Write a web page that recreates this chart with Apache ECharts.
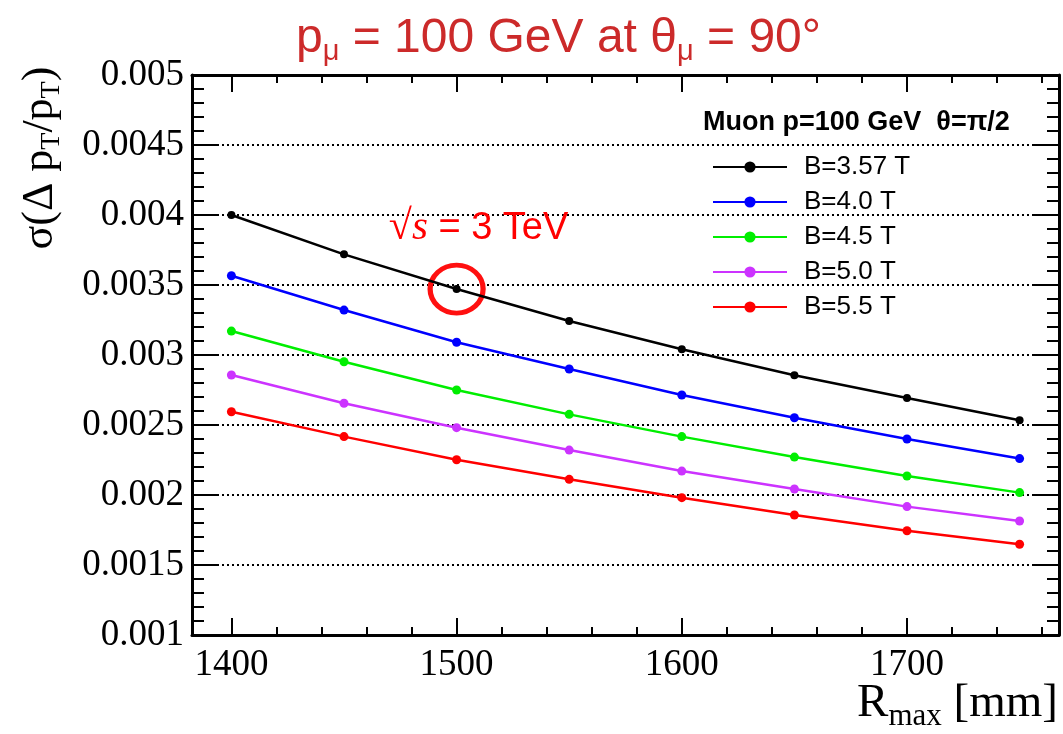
<!DOCTYPE html>
<html>
<head>
<meta charset="utf-8">
<script src="https://cdn.jsdelivr.net/npm/echarts@6/dist/echarts.min.js"></script>
<style>
html,body{margin:0;padding:0;background:#fff;}
#chart{width:1063px;height:734px;}
</style>
</head>
<body>
<div id="chart"></div>
<script>
// ---- data ----
const rMax = [1400, 1450, 1500, 1550, 1600, 1650, 1700, 1750];
const seriesNames = ['B=3.57 T', 'B=4.0 T', 'B=4.5 T', 'B=5.0 T', 'B=5.5 T'];
const resB357 = [0.004000, 0.003719, 0.003471, 0.003243, 0.003041, 0.002855, 0.002693, 0.002534];
const resB40  = [0.003566, 0.003321, 0.003091, 0.002900, 0.002714, 0.002552, 0.002400, 0.002260];
const resB45  = [0.003171, 0.002952, 0.002750, 0.002576, 0.002417, 0.002271, 0.002136, 0.002017];
const resB50  = [0.002857, 0.002655, 0.002481, 0.002321, 0.002171, 0.002043, 0.001917, 0.001814];
const resB55  = [0.002595, 0.002417, 0.002252, 0.002112, 0.001981, 0.001857, 0.001745, 0.001648];
const xTickValues = [1400, 1500, 1600, 1700];
const yTickLabels = ['0.001', '0.0015', '0.002', '0.0025', '0.003', '0.0035', '0.004', '0.0045', '0.005'];
const highlightR = 1500; // sqrt(s) = 3 TeV point on the B=3.57 T curve

// ---- styles ----
const colors = ['#000000', '#0000ff', '#00ee00', '#cc33ff', '#ff0000'];
const allRes = [resB357, resB40, resB45, resB50, resB55];
const X_MIN = 1382.5, X_MAX = 1767.5;
const minorX = [];
for (let v = 1400; v <= 1760; v += 20) { if (xTickValues.indexOf(v) < 0) minorX.push(v); }

const serif = "'Liberation Serif','DejaVu Serif',serif";
const sans = "'Liberation Sans',Arial,sans-serif";

function xAxisDef(pos, major) {
  return {
    type: 'value', min: X_MIN, max: X_MAX, position: pos,
    axisLine: { show: major, onZero: false, lineStyle: { color: '#000', width: 3 } },
    axisTick: { show: true, inside: true, length: major ? 17 : 8,
      customValues: major ? xTickValues : minorX,
      lineStyle: { color: '#000', width: 2 } },
    axisLabel: { show: major && pos === 'bottom', customValues: xTickValues,
      fontFamily: serif, fontSize: 37, color: '#000', margin: 12,
      formatter: function (v) { return String(v); } },
    splitLine: { show: false }
  };
}
function yAxisDef(pos) {
  const left = pos === 'left';
  return {
    type: 'value', min: 0.001, max: 0.005, interval: 0.0005, position: pos,
    axisLine: { show: true, onZero: false, lineStyle: { color: '#000', width: 3 } },
    axisTick: { show: true, inside: true, length: 26, lineStyle: { color: '#000', width: 2 } },
    minorTick: { show: true, splitNumber: 5, length: 12, lineStyle: { color: '#000', width: 2 } },
    axisLabel: { show: left, fontFamily: serif, fontSize: 37, color: '#000', margin: 8,
      formatter: function (v) {
        const i = Math.round((v - 0.001) / 0.0005);
        return yTickLabels[i] !== undefined ? yTickLabels[i] : '';
      } },
    splitLine: { show: left, lineStyle: { color: '#000', width: 2, type: [2, 3] } },
    minorSplitLine: { show: false }
  };
}

const series = seriesNames.map(function (name, k) {
  const s = {
    name: name, type: 'line', xAxisIndex: 0, yAxisIndex: 0,
    data: rMax.map(function (r, i) { return [r, allRes[k][i]]; }),
    symbol: 'circle', symbolSize: k === 0 ? 8 : 9,
    lineStyle: { color: colors[k], width: 2.5 },
    itemStyle: { color: colors[k] },
    z: 5 + k
  };
  if (k === 0) {
    const idx = rMax.indexOf(highlightR);
    s.markPoint = {
      symbol: 'circle', symbolSize: [53, 48], silent: true,
      itemStyle: { color: 'rgba(0,0,0,0)', borderColor: '#ff1010', borderWidth: 5 },
      label: {
        show: true, position: 'inside', offset: [22, -61],
        formatter: '{r|√}{s|s}{t| = 3 TeV}',
        rich: {
          r: { fontFamily: serif, fontSize: 42, color: '#ff0000' },
          s: { fontFamily: serif, fontStyle: 'italic', fontSize: 41, color: '#ff0000' },
          t: { fontFamily: sans, fontSize: 38, color: '#ff0000' }
        }
      },
      data: [{ coord: [highlightR, allRes[0][idx]] }]
    };
  }
  return s;
});

const chart = echarts.init(document.getElementById('chart'), null, { renderer: 'canvas' });
chart.setOption({
  animation: false,
  backgroundColor: '#ffffff',
  title: {
    left: 291, top: 6,
    text: '{t|p}{s|μ}{t| = 100 GeV at θ}{s|μ}{t| = 90°}',
    textStyle: {
      fontWeight: 'normal',
      rich: {
        t: { fontFamily: sans, fontSize: 48, fontWeight: 'normal', color: '#cc2a2a' },
        s: { fontFamily: sans, fontSize: 29, fontWeight: 'normal', color: '#cc2a2a', padding: [26, 0, 0, 0] }
      }
    }
  },
  grid: { left: 192, right: 4, top: 75, bottom: 99, containLabel: false },
  legend: {
    orient: 'vertical', left: 707, top: 149,
    itemWidth: 74, itemHeight: 14, itemGap: 9,
    data: seriesNames,
    textStyle: { fontFamily: sans, fontSize: 26, color: '#000', lineHeight: 26, padding: [0, 0, 0, 12] }
  },
  xAxis: [xAxisDef('bottom', true), xAxisDef('bottom', false), xAxisDef('top', true), xAxisDef('top', false)],
  yAxis: [yAxisDef('left'), yAxisDef('right')],
  graphic: [
    {
      type: 'text', x: 703, y: 123,
      style: { text: 'Muon p=100 GeV  θ=π/2', fontFamily: sans, fontWeight: 'bold', fontSize: 27,
        fill: '#000', align: 'left', verticalAlign: 'middle' }
    },
    {
      type: 'text', x: 40, y: 158, rotation: Math.PI / 2,
      style: {
        text: '{m|σ(Δ p}{s|T}{m|/p}{s|T}{m|)}',
        align: 'center', verticalAlign: 'middle',
        rich: {
          m: { fontFamily: serif, fontSize: 44, fill: '#000' },
          s: { fontFamily: serif, fontSize: 28, fill: '#000', padding: [24, 0, 0, 0] }
        }
      }
    },
    {
      type: 'text', x: 1058, y: 704,
      style: {
        text: '{m|R}{s|max}{m| [mm]}',
        align: 'right', verticalAlign: 'middle',
        rich: {
          m: { fontFamily: serif, fontSize: 47, fill: '#000' },
          s: { fontFamily: serif, fontSize: 31, fill: '#000', padding: [25, 0, 0, 0] }
        }
      }
    }
  ],
  series: series
});
</script>
</body>
</html>
